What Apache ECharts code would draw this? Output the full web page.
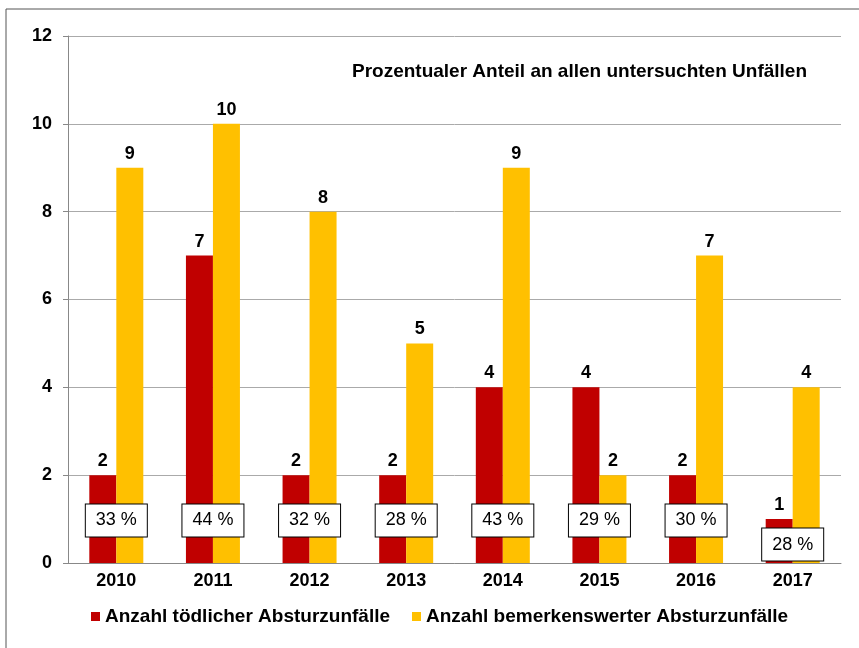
<!DOCTYPE html>
<html>
<head>
<meta charset="utf-8">
<script src="https://cdn.jsdelivr.net/npm/echarts@6/dist/echarts.min.js"></script>
<style>
  html, body { margin: 0; padding: 0; background: #fff; }
  #chart { width: 859px; height: 648px; }
</style>
</head>
<body>
<div id="chart"></div>
<script>
var years = ['2010', '2011', '2012', '2013', '2014', '2015', '2016', '2017']
var toedlich = [2, 7, 2, 2, 4, 4, 2, 1]
var bemerkenswert = [9, 10, 8, 5, 9, 2, 7, 4]
var anteil = ['33 %', '44 %', '32 %', '28 %', '43 %', '29 %', '30 %', '28 %']
// height at which the percentage boxes sit
var anteilPos = [0.97, 0.97, 0.97, 0.97, 0.97, 0.97, 0.97, 0.42]

var chart = echarts.init(document.getElementById('chart'))
var font = 'Liberation Sans, Arial, sans-serif'

var option = {
  animation: false,
  textStyle: { fontFamily: font },
  graphic: [
    {
      type: 'rect',
      shape: { x: 6, y: 9, width: 900, height: 700 },
      style: { fill: 'none', stroke: '#555', lineWidth: 1 },
      silent: true
    },
    {
      type: 'text',
      left: 352,
      top: 62,
      style: {
        text: 'Prozentualer Anteil an allen untersuchten Unfällen',
        font: 'bold 19px ' + font,
        fill: '#000'
      }
    }
  ],
  grid: { left: 68, right: 18, top: 36, bottom: 85 },
  legend: {
    bottom: 17,
    left: 86,
    icon: 'rect',
    itemWidth: 9,
    itemHeight: 9,
    itemGap: 22,
    data: ['Anzahl tödlicher Absturzunfälle', 'Anzahl bemerkenswerter Absturzunfälle'],
    textStyle: { fontSize: 19, fontWeight: 'bold', color: '#000', fontFamily: font }
  },
  xAxis: {
    type: 'category',
    data: years,
    axisLine: { lineStyle: { color: '#888' } },
    axisTick: { length: 6, lineStyle: { color: '#888' } },
    axisLabel: { fontSize: 18, fontWeight: 'bold', color: '#000', margin: 9 }
  },
  yAxis: {
    type: 'value',
    min: 0,
    max: 12,
    interval: 2,
    axisLine: { show: true, lineStyle: { color: '#888' } },
    axisTick: { show: true, length: 5, lineStyle: { color: '#888' } },
    splitLine: { lineStyle: { color: '#aaa' } },
    axisLabel: { fontSize: 18, fontWeight: 'bold', color: '#000', margin: 16 }
  },
  series: [
    {
      name: 'Anzahl tödlicher Absturzunfälle',
      type: 'bar',
      data: toedlich,
      barWidth: 27,
      barGap: 0,
      itemStyle: { color: '#C00000' },
      label: { show: true, position: 'top', distance: 5, fontSize: 18, fontWeight: 'bold', color: '#000' }
    },
    {
      name: 'Anzahl bemerkenswerter Absturzunfälle',
      type: 'bar',
      data: bemerkenswert,
      barWidth: 27,
      barGap: 0,
      itemStyle: { color: '#FFC000' },
      label: { show: true, position: 'top', distance: 5, fontSize: 18, fontWeight: 'bold', color: '#000' }
    },
    {
      name: 'Anteil',
      type: 'scatter',
      data: anteilPos,
      symbol: 'rect',
      symbolSize: 1,
      itemStyle: { color: '#fff', opacity: 1 },
      z: 10,
      silent: true,
      label: {
        show: true,
        position: 'inside',
        formatter: function (p) { return anteil[p.dataIndex] },
        fontSize: 18,
        color: '#000',
        opacity: 1,
        backgroundColor: '#fff',
        borderColor: '#000',
        borderWidth: 1,
        width: 61,
        height: 32,
        align: 'center',
        verticalAlign: 'middle',
        padding: 0
      }
    }
  ]
}

chart.setOption(option)
</script>
</body>
</html>
